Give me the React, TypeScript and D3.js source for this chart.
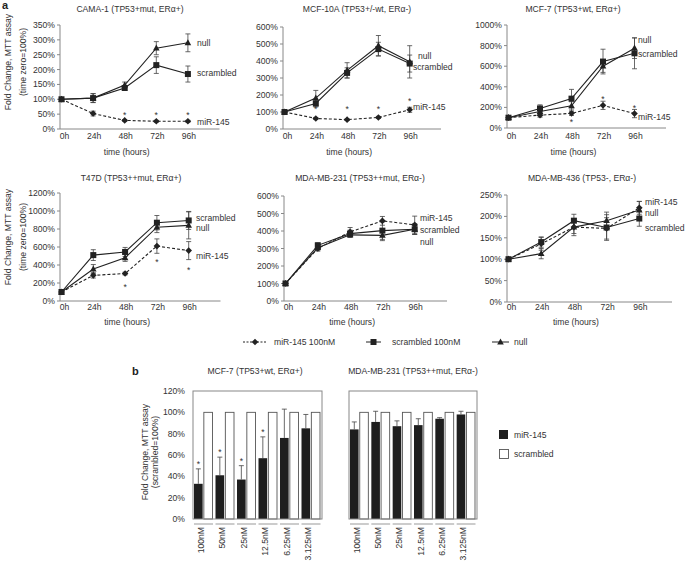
import React from "react";
import * as d3 from "d3";

// ---------- DATA ----------
const timeLabels = ["0h", "24h", "48h", "72h", "96h"];

const cama1Mir = [100, 52, 29, 26, 26];
const cama1MirErr = [4, 8, 3, 3, 3];
const cama1Scr = [100, 104, 138, 215, 185];
const cama1ScrErr = [5, 15, 8, 28, 27];
const cama1Null = [100, 104, 148, 272, 290];
const cama1NullErr = [5, 15, 10, 22, 30];
const cama1Stars = [null, null, 53, 53, 53];

const mcf10aMir = [100, 62, 55, 68, 113];
const mcf10aMirErr = [3, 6, 5, 6, 15];
const mcf10aScr = [100, 150, 330, 470, 385];
const mcf10aScrErr = [5, 20, 30, 40, 50];
const mcf10aNull = [100, 182, 345, 490, 395];
const mcf10aNullErr = [5, 45, 45, 60, 95];
const mcf10aStars = [null, 128, 128, 128, 175];

const mcf7Mir = [100, 125, 142, 220, 140];
const mcf7MirErr = [10, 20, 20, 40, 40];
const mcf7Scr = [100, 190, 285, 645, 725];
const mcf7ScrErr = [10, 35, 90, 120, 150];
const mcf7Null = [100, 160, 215, 600, 775];
const mcf7NullErr = [10, 30, 40, 60, 100];
const mcf7Stars = [null, null, 78, 305, 214];

const t47dMir = [100, 285, 305, 610, 560];
const t47dMirErr = [10, 30, 15, 80, 100];
const t47dScr = [100, 510, 545, 870, 895];
const t47dScrErr = [10, 60, 50, 80, 100];
const t47dNull = [100, 355, 480, 820, 840];
const t47dNullErr = [10, 50, 40, 60, 150];
const t47dStars = [null, null, 178, 455, 370];

const mda231Mir = [100, 300, 395, 458, 435];
const mda231MirErr = [5, 15, 25, 25, 50];
const mda231Scr = [100, 318, 385, 402, 410];
const mda231ScrErr = [5, 15, 20, 50, 30];
const mda231Null = [100, 305, 378, 375, 410];
const mda231NullErr = [5, 15, 15, 30, 30];
const mda231Stars = [null, null, null, null, null];

const mda436Mir = [100, 136, 175, 172, 220];
const mda436MirErr = [3, 15, 20, 25, 15];
const mda436Scr = [100, 140, 190, 174, 195];
const mda436ScrErr = [3, 12, 15, 30, 18];
const mda436Null = [100, 113, 175, 190, 215];
const mda436NullErr = [3, 12, 15, 20, 20];
const mda436Stars = [null, null, null, null, null];

const concLabels = ["100nM", "50nM", "25nM", "12.5nM", "6.25nM", "3.125nM"];
const mcf7BarMir = [33, 41, 37, 57, 76, 85];
const mcf7BarMirErr = [14, 17, 13, 20, 27, 13];
const mcf7BarScr = [100, 100, 100, 100, 100, 100];
const mcf7BarStars = [true, true, true, true, false, false];
const mda231BarMir = [84, 91, 87, 88, 94, 98];
const mda231BarMirErr = [7, 10, 5, 6, 1, 3];
const mda231BarScr = [100, 100, 100, 100, 100, 100];
const mda231BarStars = [false, false, false, false, false, false];
const barYTicks = [0, 20, 40, 60, 80, 100, 120];

// ---------- STYLE ----------
const FONT = "'Liberation Sans', Arial, Helvetica, sans-serif";
const TXT = "#333";
const AX = "#888";
const LN = "#222";
const FS = 8.6;

type Kind = "mir" | "scr" | "null";

function Marker({ kind, cx, cy }: { kind: Kind; cx: number; cy: number }) {
  if (kind === "mir")
    return <path d={`M${cx},${cy - 3.3}L${cx + 3.3},${cy}L${cx},${cy + 3.3}L${cx - 3.3},${cy}Z`} fill={LN} />;
  if (kind === "scr") return <rect x={cx - 3} y={cy - 3} width={6} height={6} fill={LN} />;
  return <path d={`M${cx},${cy - 3.6}L${cx + 3.3},${cy + 2.4}L${cx - 3.3},${cy + 2.4}Z`} fill={LN} />;
}

interface PanelCfg {
  title: string;
  titleX: number;
  titleY: number;
  axisX: number;
  y0: number;
  yTop: number;
  yMax: number;
  yStep: number;
  step: number;
  mir: number[];
  mirErr: number[];
  scr: number[];
  scrErr: number[];
  nul: number[];
  nulErr: number[];
  stars: (number | null)[];
  labels: { text: string; x: number; y: number }[];
  tickY: number;
  xTitleY: number;
}

function LinePanel({ c }: { c: PanelCfg }) {
  const y = d3.scaleLinear().domain([0, c.yMax]).range([c.y0, c.yTop]);
  const x = d3.scaleLinear().domain([0, 5]).range([c.axisX + 1.5, c.axisX + 1.5 + c.step * 5]);
  const ticks = d3.range(0, c.yMax + 1e-6, c.yStep);
  const line = d3
    .line<number>()
    .x((_, i) => x(i))
    .y((d) => y(d));
  const series: { kind: Kind; vals: number[]; err: number[] }[] = [
    { kind: "null", vals: c.nul, err: c.nulErr },
    { kind: "scr", vals: c.scr, err: c.scrErr },
    { kind: "mir", vals: c.mir, err: c.mirErr },
  ];
  return (
    <g>
      <text x={c.titleX} y={c.titleY} textAnchor="middle" fontSize={FS} fill={TXT}>
        {c.title}
      </text>
      {/* y axis */}
      <line x1={c.axisX} x2={c.axisX} y1={y(0)} y2={y(c.yMax)} stroke={AX} strokeWidth={1} />
      {ticks.map((t) => (
        <g key={t}>
          <line x1={c.axisX - 3} x2={c.axisX} y1={y(t)} y2={y(t)} stroke={AX} strokeWidth={1} />
          <text x={c.axisX - 5} y={y(t) + 3} textAnchor="end" fontSize={FS} fill={TXT}>
            {t}%
          </text>
        </g>
      ))}
      {/* x axis */}
      <line x1={c.axisX} x2={x(5)} y1={y(0)} y2={y(0)} stroke={AX} strokeWidth={1} />
      {timeLabels.map((t, i) => (
        <text key={t} x={x(i) + (i === 0 ? 3 : 1)} y={c.tickY} textAnchor="middle" fontSize={FS} fill={TXT}>
          {t}
        </text>
      ))}
      <text x={x(2) + 2} y={c.xTitleY} textAnchor="middle" fontSize={FS} fill={TXT}>
        time (hours)
      </text>
      {/* error bars */}
      {series.map((s) =>
        s.vals.map((v, i) => {
          const e = s.err[i];
          if (!e) return null;
          const px = x(i);
          return (
            <g key={s.kind + i} stroke="#444" strokeWidth={0.8}>
              <line x1={px} x2={px} y1={y(v - e)} y2={y(v + e)} />
              <line x1={px - 2.5} x2={px + 2.5} y1={y(v + e)} y2={y(v + e)} />
              <line x1={px - 2.5} x2={px + 2.5} y1={y(v - e)} y2={y(v - e)} />
            </g>
          );
        })
      )}
      {/* lines */}
      {series.map((s) => (
        <path
          key={s.kind}
          d={line(s.vals) || ""}
          fill="none"
          stroke={LN}
          strokeWidth={1.1}
          strokeDasharray={s.kind === "mir" ? "3,2" : undefined}
        />
      ))}
      {series.map((s) =>
        s.vals.map((v, i) => <Marker key={s.kind + "m" + i} kind={s.kind} cx={x(i)} cy={y(v)} />)
      )}
      {c.stars.map((v, i) =>
        v == null ? null : (
          <text key={"s" + i} x={x(i)} y={y(v) + 5} textAnchor="middle" fontSize={FS} fill={TXT}>
            *
          </text>
        )
      )}
      {c.labels.map((l) => (
        <text key={l.text} x={l.x} y={l.y + 3} fontSize={FS} fill={TXT}>
          {l.text}
        </text>
      ))}
    </g>
  );
}

interface BarCfg {
  title: string;
  titleX: number;
  left: number;
  right: number;
  top: number;
  bottom: number;
  mir: number[];
  mirErr: number[];
  scr: number[];
  stars: boolean[];
  showAxis: boolean;
}

function BarPanel({ c }: { c: BarCfg }) {
  const y = d3.scaleLinear().domain([0, 120]).range([c.bottom, c.top]);
  const xb = d3.scaleBand().domain(concLabels).range([c.left, c.right]).paddingInner(0).paddingOuter(0);
  const bw = xb.bandwidth();
  const inner = d3.scaleBand().domain(["mir", "scr"]).range([1, bw - 2]).paddingInner(0.12);
  return (
    <g>
      <text x={c.titleX} y={374} textAnchor="middle" fontSize={FS} fill={TXT}>
        {c.title}
      </text>
      {concLabels.map((lab, i) => {
        const gx = xb(lab) as number;
        const mx = gx + (inner("mir") as number);
        const sx = gx + (inner("scr") as number);
        const w = inner.bandwidth();
        const v = c.mir[i];
        const e = c.mirErr[i];
        const cx = mx + w / 2;
        return (
          <g key={lab}>
            <rect x={mx} y={y(v)} width={w} height={y(0) - y(v)} fill="#1e1e1e" />
            <rect x={sx} y={y(c.scr[i])} width={w} height={y(0) - y(c.scr[i])} fill="#fff" stroke="#555" strokeWidth={0.9} />
            <g stroke="#444" strokeWidth={0.8}>
              <line x1={cx} x2={cx} y1={y(v)} y2={y(v + e)} />
              <line x1={cx - 2.5} x2={cx + 2.5} y1={y(v + e)} y2={y(v + e)} />
            </g>
            {c.stars[i] ? (
              <text x={cx} y={y(v + e) - 2} textAnchor="middle" fontSize={FS} fill={TXT}>
                *
              </text>
            ) : null}
            <line x1={gx + 1} x2={gx + bw - 1.5} y1={c.bottom + 5} y2={c.bottom + 5} stroke="#999" strokeWidth={1} />
            <text
              transform={`translate(${gx + bw / 2},${c.bottom + 8}) rotate(-90)`}
              textAnchor="end"
              fontSize={FS}
              fill={TXT}
            >
              {lab}
            </text>
          </g>
        );
      })}
      <rect x={c.left} y={c.top} width={c.right - c.left} height={c.bottom - c.top} fill="none" stroke={AX} strokeWidth={1} />
      {c.showAxis
        ? barYTicks.map((t) => (
            <text key={t} x={c.left - 8} y={y(t) + 3} textAnchor="end" fontSize={FS} fill={TXT}>
              {t}%
            </text>
          ))
        : null}
    </g>
  );
}

const panels: PanelCfg[] = [
  {
    title: "CAMA-1 (TP53+mut, ERα+)", titleX: 130, titleY: 12,
    axisX: 60, y0: 129, yTop: 25, yMax: 350, yStep: 50, step: 31.6,
    mir: cama1Mir, mirErr: cama1MirErr, scr: cama1Scr, scrErr: cama1ScrErr, nul: cama1Null, nulErr: cama1NullErr,
    stars: cama1Stars,
    labels: [
      { text: "null", x: 197, y: 43 },
      { text: "scrambled", x: 197, y: 73 },
      { text: "miR-145", x: 197, y: 122 },
    ],
    tickY: 139, xTitleY: 155,
  },
  {
    title: "MCF-10A (TP53+/-wt, ERα-)", titleX: 357, titleY: 12,
    axisX: 283, y0: 129, yTop: 27, yMax: 600, yStep: 100, step: 31.3,
    mir: mcf10aMir, mirErr: mcf10aMirErr, scr: mcf10aScr, scrErr: mcf10aScrErr, nul: mcf10aNull, nulErr: mcf10aNullErr,
    stars: mcf10aStars,
    labels: [
      { text: "null", x: 418, y: 56 },
      { text: "scrambled", x: 413, y: 67 },
      { text: "miR-145", x: 413, y: 107 },
    ],
    tickY: 139, xTitleY: 155,
  },
  {
    title: "MCF-7 (TP53+wt, ERα+)", titleX: 573, titleY: 12,
    axisX: 507, y0: 128, yTop: 25, yMax: 1000, yStep: 200, step: 31.5,
    mir: mcf7Mir, mirErr: mcf7MirErr, scr: mcf7Scr, scrErr: mcf7ScrErr, nul: mcf7Null, nulErr: mcf7NullErr,
    stars: mcf7Stars,
    labels: [
      { text: "null", x: 638, y: 40 },
      { text: "scrambled", x: 638, y: 54 },
      { text: "miR-145", x: 638, y: 117 },
    ],
    tickY: 139, xTitleY: 155,
  },
  {
    title: "T47D (TP53++mut, ERα+)", titleX: 131, titleY: 181,
    axisX: 60, y0: 301, yTop: 193, yMax: 1200, yStep: 200, step: 31.8,
    mir: t47dMir, mirErr: t47dMirErr, scr: t47dScr, scrErr: t47dScrErr, nul: t47dNull, nulErr: t47dNullErr,
    stars: t47dStars,
    labels: [
      { text: "scrambled", x: 196, y: 218 },
      { text: "null", x: 196, y: 228 },
      { text: "miR-145", x: 196, y: 256 },
    ],
    tickY: 310, xTitleY: 325,
  },
  {
    title: "MDA-MB-231 (TP53++mut, ERα-)", titleX: 360, titleY: 181,
    axisX: 284, y0: 301, yTop: 196, yMax: 600, yStep: 100, step: 32.3,
    mir: mda231Mir, mirErr: mda231MirErr, scr: mda231Scr, scrErr: mda231ScrErr, nul: mda231Null, nulErr: mda231NullErr,
    stars: mda231Stars,
    labels: [
      { text: "miR-145", x: 420, y: 218 },
      { text: "scrambled", x: 420, y: 230 },
      { text: "null", x: 420, y: 242 },
    ],
    tickY: 310, xTitleY: 325,
  },
  {
    title: "MDA-MB-436 (TP53-, ERα-)", titleX: 582, titleY: 181,
    axisX: 507, y0: 302, yTop: 195, yMax: 250, yStep: 50, step: 32.7,
    mir: mda436Mir, mirErr: mda436MirErr, scr: mda436Scr, scrErr: mda436ScrErr, nul: mda436Null, nulErr: mda436NullErr,
    stars: mda436Stars,
    labels: [
      { text: "miR-145", x: 645, y: 202 },
      { text: "null", x: 645, y: 213 },
      { text: "scrambled", x: 645, y: 228 },
    ],
    tickY: 310, xTitleY: 325,
  },
];

const bars: BarCfg[] = [
  {
    title: "MCF-7 (TP53+wt, ERα+)", titleX: 255, left: 193, right: 322, top: 391, bottom: 519,
    mir: mcf7BarMir, mirErr: mcf7BarMirErr, scr: mcf7BarScr, stars: mcf7BarStars, showAxis: true,
  },
  {
    title: "MDA-MB-231 (TP53++mut, ERα-)", titleX: 413, left: 349, right: 477, top: 391, bottom: 519,
    mir: mda231BarMir, mirErr: mda231BarMirErr, scr: mda231BarScr, stars: mda231BarStars, showAxis: false,
  },
];

function YLabel({ x1, x2, cy, l1, l2 }: { x1: number; x2: number; cy: number; l1: string; l2: string }) {
  return (
    <g>
      <text transform={`translate(${x1},${cy}) rotate(-90)`} textAnchor="middle" fontSize={FS} fill={TXT}>
        {l1}
      </text>
      <text transform={`translate(${x2},${cy}) rotate(-90)`} textAnchor="middle" fontSize={FS} fill={TXT}>
        {l2}
      </text>
    </g>
  );
}

export default function App() {
  const legY = 342;
  return (
    <svg
      width={685}
      height={565}
      style={{ position: "absolute", left: 0, top: 0, background: "#fff" }}
      fontFamily={FONT}
    >
      <rect width={685} height={565} fill="#fff" />
      <text x={2} y={9} fontSize={11} fontWeight="bold" fill="#222">a</text>
      <text x={132} y={375} fontSize={11} fontWeight="bold" fill="#222">b</text>

      <YLabel x1={11} x2={26} cy={62} l1="Fold Change, MTT assay" l2="(time zero=100%)" />
      <YLabel x1={11} x2={26} cy={237} l1="Fold Change, MTT assay" l2="(time zero=100%)" />
      <YLabel x1={148} x2={158} cy={452} l1="Fold Change, MTT assay" l2="(scrambled=100%)" />

      {panels.map((p) => (
        <LinePanel key={p.title} c={p} />
      ))}

      {/* legend for a */}
      <g>
        <line x1={243} x2={267} y1={legY} y2={legY} stroke={LN} strokeWidth={1} strokeDasharray="2,1.5" />
        <Marker kind="mir" cx={255} cy={legY} />
        <text x={274} y={legY + 3} fontSize={FS} fill={TXT}>miR-145 100nM</text>
        <line x1={366} x2={381} y1={legY} y2={legY} stroke={LN} strokeWidth={1} />
        <Marker kind="scr" cx={373.5} cy={legY} />
        <text x={392} y={legY + 3} fontSize={FS} fill={TXT}>scrambled 100nM</text>
        <line x1={492} x2={509} y1={legY} y2={legY} stroke={LN} strokeWidth={1} />
        <Marker kind="null" cx={500.5} cy={legY} />
        <text x={514} y={legY + 3} fontSize={FS} fill={TXT}>null</text>
      </g>

      {bars.map((b) => (
        <BarPanel key={b.title} c={b} />
      ))}

      {/* legend for b */}
      <rect x={499} y={430} width={9} height={9} fill="#1e1e1e" />
      <text x={514} y={438} fontSize={FS} fill={TXT}>miR-145</text>
      <rect x={499.5} y={449.5} width={9} height={9} fill="#fff" stroke="#555" strokeWidth={0.9} />
      <text x={514} y={457} fontSize={FS} fill={TXT}>scrambled</text>
    </svg>
  );
}
